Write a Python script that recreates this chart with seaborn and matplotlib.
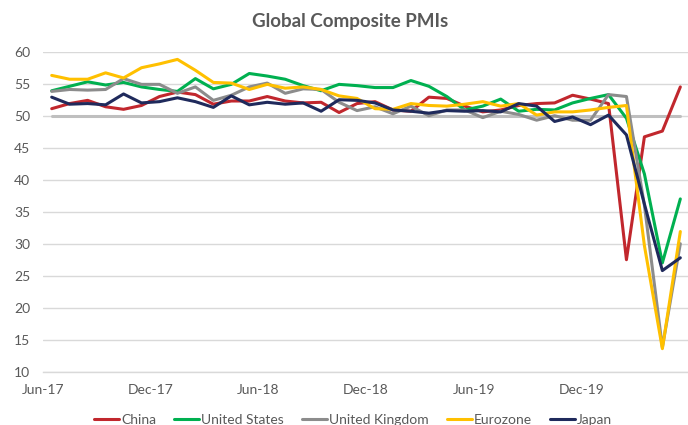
import numpy as np
import pandas as pd
import seaborn as sns
import matplotlib.pyplot as plt

# Monthly composite PMIs, Jun-17 .. May-20
months = pd.date_range("2017-06-01", periods=36, freq="MS").strftime("%b-%y").tolist()

china = [51.1, 51.9, 52.4, 51.4, 51.0, 51.6, 53.0,
         53.7, 53.3, 51.8, 52.3, 52.3, 53.0, 52.3, 52.0, 52.1, 50.5, 51.9, 52.2,
         50.9, 50.7, 52.9, 52.7, 51.5, 50.6, 50.9, 51.6, 51.9, 52.0, 53.2, 52.6,
         51.9, 27.5, 46.7, 47.6, 54.5]
united_states = [53.9, 54.6, 55.3, 54.8, 55.2, 54.5, 54.1,
                 53.8, 55.8, 54.2, 54.9, 56.6, 56.2, 55.7, 54.7, 53.9, 54.9, 54.7, 54.4,
                 54.4, 55.5, 54.6, 53.0, 50.9, 51.5, 52.6, 50.7, 51.0, 50.9, 52.0, 52.7,
                 53.3, 49.6, 40.9, 27.0, 37.0]
united_kingdom = [53.8, 54.1, 54.0, 54.1, 55.8, 54.9, 54.9,
                  53.5, 54.5, 52.4, 53.2, 54.5, 55.1, 53.5, 54.2, 54.1, 52.1, 50.8, 51.4,
                  50.3, 51.5, 50.0, 50.9, 50.9, 49.7, 50.7, 50.2, 49.3, 50.0, 49.3, 49.3,
                  53.3, 53.0, 36.0, 13.8, 30.0]
eurozone = [56.3, 55.7, 55.7, 56.7, 55.9, 57.5, 58.1,
            58.8, 57.1, 55.2, 55.1, 54.1, 54.9, 54.3, 54.5, 54.1, 53.1, 52.7, 51.1,
            51.0, 51.9, 51.6, 51.5, 51.8, 52.2, 51.5, 51.9, 50.1, 50.6, 50.6, 50.9,
            51.3, 51.6, 29.7, 13.6, 31.9]
japan = [52.9, 51.8, 51.9, 51.7, 53.4, 52.0, 52.2,
         52.8, 52.2, 51.3, 53.1, 51.7, 52.1, 51.8, 52.0, 50.7, 52.5, 52.4, 52.0,
         50.9, 50.7, 50.4, 50.8, 50.7, 50.8, 50.6, 51.9, 51.5, 49.1, 49.8, 48.6,
         50.1, 47.0, 36.2, 25.8, 27.8]

regions = ["China", "United States", "United Kingdom", "Eurozone", "Japan"]
colors = ["#C1272D", "#00B050", "#8C8C8C", "#FFC000", "#1F2A5C"]
tick_labels = ["Jun-17", "Dec-17", "Jun-18", "Dec-18", "Jun-19", "Dec-19"]
threshold = 50

df = pd.DataFrame({"month": months, "China": china, "United States": united_states,
                   "United Kingdom": united_kingdom, "Eurozone": eurozone, "Japan": japan})
df["idx"] = np.arange(len(df))
long = df.melt(id_vars=["month", "idx"], value_vars=regions, var_name="region", value_name="pmi")

sns.set_theme(style="white")
plt.rcParams["font.family"] = ["Lato", "DejaVu Sans"]

fig = plt.figure(figsize=(6.88, 4.25), dpi=100)
ax = fig.add_axes([0.0621, 0.1254, 0.9398, 0.7529])

# 50 expansion/contraction line
ax.plot(df["idx"], [threshold] * len(df), color="#BFBFBF", lw=2.2, zorder=1.5)

sns.lineplot(data=long, x="idx", y="pmi", hue="region", hue_order=regions,
             palette=colors, linewidth=2.2, ax=ax, legend=False, zorder=2)

ax.set_xlim(-0.5, 35.5)
ax.set_ylim(10, 60)
ax.set_yticks(range(10, 61, 5))
ax.set_xticks([6 * k - 0.5 for k in range(len(tick_labels))])
ax.set_xticklabels(tick_labels)
ax.set_xlabel("")
ax.set_ylabel("")

for s in ["top", "right", "left"]:
    ax.spines[s].set_visible(False)
ax.spines["bottom"].set_color("#D9D9D9")
ax.spines["bottom"].set_linewidth(1)
ax.yaxis.grid(True, color="#D9D9D9", lw=1)
ax.set_axisbelow(True)

ax.tick_params(axis="y", length=0, pad=9, labelsize=10, labelcolor="#595959")
ax.tick_params(axis="x", length=3, width=1, color="#D9D9D9", direction="out",
               pad=6, labelsize=10, labelcolor="#595959")

fig.text(0.509, 1 - 22 / 425, "Global Composite PMIs", ha="center", va="center",
         fontsize=13.5, fontweight="bold", color="#595959")

handles = [plt.Line2D([], [], color=c, lw=2.2) for c in colors]
fig.legend(handles, regions, loc="center", bbox_to_anchor=(0.513, 1 - 420 / 425),
           ncol=5, frameon=False, fontsize=10, handlelength=1.8, handletextpad=0.15,
           columnspacing=1.3, borderpad=0, labelcolor="#595959")

plt.savefig("out.png", dpi=100)
